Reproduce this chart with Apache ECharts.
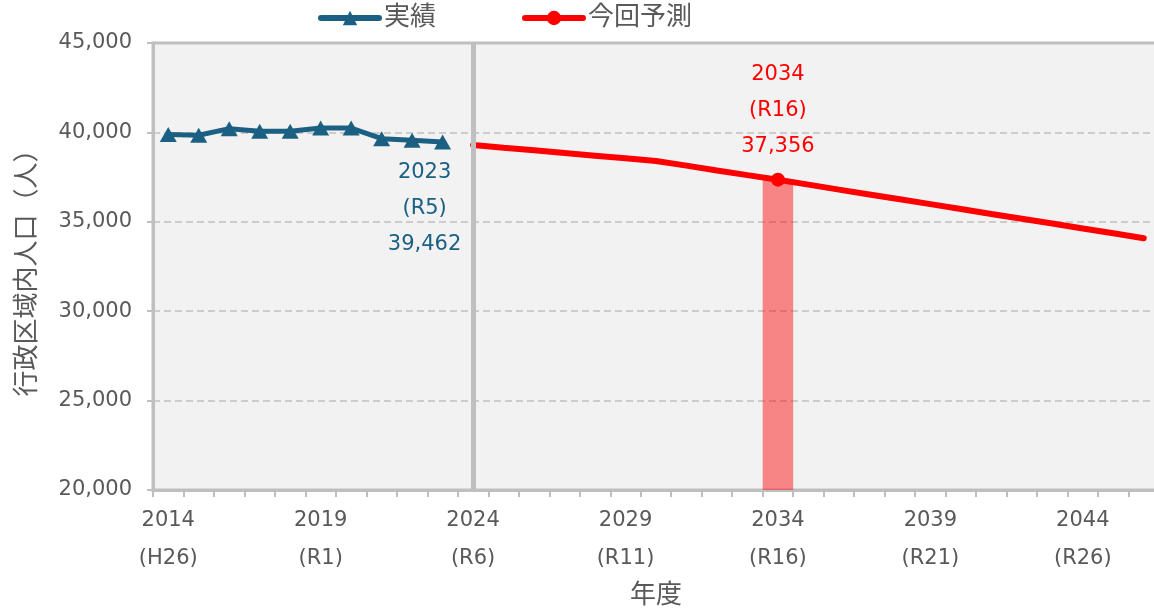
<!DOCTYPE html>
<html>
<head>
<meta charset="utf-8">
<script src="https://cdn.jsdelivr.net/npm/echarts@6/dist/echarts.min.js"></script>
<style>
html,body{margin:0;padding:0;background:#fff;}
#main{width:1154px;height:612px;}
</style>
</head>
<body>
<div id="main"></div>
<script>
// 年度 2014..2046
var years = ['2014','2015','2016','2017','2018','2019','2020','2021','2022','2023',
    '2024','2025','2026','2027','2028','2029','2030','2031','2032','2033',
    '2034','2035','2036','2037','2038','2039','2040','2041','2042','2043',
    '2044','2045','2046'];
var labelYears = ['2014','2019','2024','2029','2034','2039','2044'];
var labelEras = ['H26','R1','R6','R11','R16','R21','R26'];
// 実績 (2014-2023)
var actual = [39880,39840,40210,40060,40060,40240,40240,39650,39560,39462];
// 今回予測 (2024-2046)
var forecast = [39290,39140,39000,38850,38700,38550,38400,38140,37870,37610,
    37356,37080,36800,36530,36260,35990,35720,35440,35170,34900,34630,34360,34080];
var highlightYear = '2034';
var dividerYear = '2024';

var font = "'DejaVu Sans','Noto Sans CJK JP',sans-serif";
var gray = '#595959';
var blue = '#1b6083';
var red = '#ff0000';

function comma(v){
    return String(v).replace(/\B(?=(\d{3})+(?!\d))/g, ',');
}

var actualData = [];
var forecastData = [];
var barData = [];
for(var a=0;a<years.length;a++){
    actualData.push(a < actual.length ? actual[a] : null);
    var fi = a - (years.length - forecast.length);
    forecastData.push(fi >= 0 ? forecast[fi] : null);
    barData.push(null);
}
var lastIdx = actual.length - 1;
actualData[lastIdx] = {
    value: actual[lastIdx],
    label: {
        show: true,
        position: 'bottom',
        distance: 5,
        offset: [-18, 0],
        formatter: years[lastIdx] + '\n(R5)\n' + comma(actual[lastIdx]),
        color: blue,
        fontSize: 21,
        lineHeight: 36,
        fontFamily: font
    }
};
var hi = years.indexOf(highlightYear);
var hiVal = forecastData[hi];
forecastData[hi] = {
    value: hiVal,
    symbol: 'circle',
    symbolSize: 14,
    label: {
        show: true,
        position: 'top',
        distance: 8,
        formatter: highlightYear + '\n(R16)\n' + comma(hiVal),
        color: red,
        fontSize: 21,
        lineHeight: 36,
        fontFamily: font
    }
};
barData[hi] = hiVal;

var chart = echarts.init(document.getElementById('main'));
var option = {
    animation: false,
    textStyle: {fontFamily: font},
    legend: {
        data: ['実績','今回予測'],
        left: 318,
        top: 5,
        padding: 0,
        itemWidth: 58,
        itemHeight: 18,
        itemGap: 86,
        lineStyle: {width: 6, cap: 'round'},
        textStyle: {fontSize: 26, color: gray, fontFamily: font}
    },
    grid: {
        left: 153, top: 43, bottom: 122, width: 1006,
        outerBoundsMode: 'none',
        containLabel: false,
        show: true,
        backgroundColor: '#f2f2f2',
        borderColor: '#bfbfbf',
        borderWidth: 3
    },
    xAxis: {
        type: 'category',
        data: years,
        name: '年度',
        nameLocation: 'middle',
        nameGap: 93,
        nameTextStyle: {fontSize: 26, color: gray, fontFamily: font},
        axisLine: {lineStyle: {color: '#bfbfbf', width: 3}},
        axisTick: {show: true, interval: 0, length: 7, lineStyle: {color: '#bfbfbf', width: 2}},
        axisLabel: {
            interval: 4,
            margin: 12,
            fontSize: 21,
            lineHeight: 38,
            color: gray,
            fontFamily: font,
            formatter: function(v){
                var i = labelYears.indexOf(v);
                if(i < 0) return '';
                return v + '\n(' + labelEras[i] + ')';
            }
        },
        splitLine: {show: false}
    },
    yAxis: {
        type: 'value',
        min: 20000,
        max: 45000,
        interval: 5000,
        name: '行政区域内人口（人）',
        nameLocation: 'middle',
        nameGap: 112,
        nameTextStyle: {fontSize: 26, color: gray, fontFamily: font},
        axisLine: {show: true, lineStyle: {color: '#bfbfbf', width: 3}},
        axisTick: {show: true, length: 6, lineStyle: {color: '#bfbfbf', width: 2}},
        axisLabel: {
            margin: 21,
            fontSize: 21,
            color: gray,
            fontFamily: font,
            formatter: function(v){ return comma(v); }
        },
        splitLine: {show: true, lineStyle: {color: '#c0c0c0', width: 1.5, type: [7, 4]}}
    },
    series: [
        {
            name: 'highlight',
            type: 'bar',
            data: barData,
            barWidth: '100%',
            itemStyle: {color: 'rgba(255,0,0,0.45)'},
            silent: true,
            z: 1,
            markLine: {
                symbol: 'none',
                silent: true,
                label: {show: false},
                lineStyle: {color: '#bfbfbf', width: 5, type: 'solid'},
                data: [{xAxis: dividerYear}]
            }
        },
        {
            name: '実績',
            type: 'line',
            data: actualData,
            symbol: 'triangle',
            symbolSize: [17, 15],
            showAllSymbol: true,
            lineStyle: {color: blue, width: 5},
            itemStyle: {color: blue},
            z: 3
        },
        {
            name: '今回予測',
            type: 'line',
            data: forecastData,
            symbol: 'circle',
            symbolSize: 0,
            showAllSymbol: true,
            lineStyle: {color: red, width: 6, cap: 'round'},
            itemStyle: {color: red},
            z: 4
        }
    ]
};
chart.setOption(option);
</script>
</body>
</html>
